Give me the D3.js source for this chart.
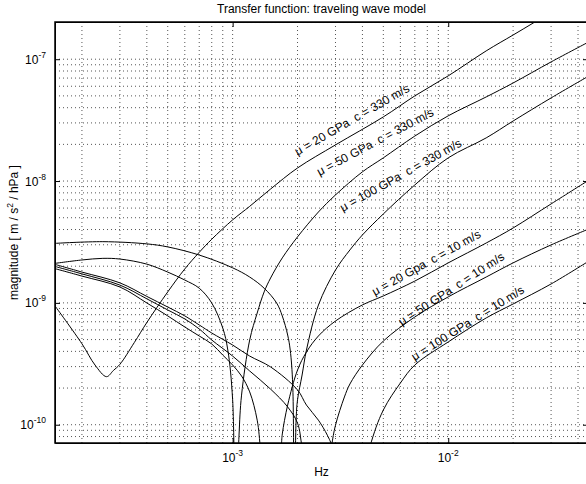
<!DOCTYPE html>
<html>
<head>
<meta charset="utf-8">
<script src="https://cdnjs.cloudflare.com/ajax/libs/d3/7.8.5/d3.min.js"></script>
<style>
  body { margin: 0; background: #fff; }
  svg { display: block; font-family: "Liberation Sans", Arial, Helvetica, sans-serif; }
</style>
</head>
<body>
<div id="chart"></div>
<script>
// Transfer function magnitude, traveling wave model (log-log)
// Each curve: [frequency Hz, magnitude m/s^2/hPa].

const mu20c330 = [
  [1.5e-4, 9.44e-10], [2.0e-4, 4.62e-10], [2.3e-4, 3.09e-10], [2.6e-4, 2.48e-10],
  [2.8e-4, 2.79e-10], [3.0e-4, 3.13e-10], [3.5e-4, 4.73e-10], [4.0e-4, 6.9e-10],
  [5.0e-4, 1.23e-9], [6.0e-4, 1.90e-9], [7.0e-4, 2.6e-9], [8.0e-4, 3.33e-9],
  [1.0e-3, 4.8e-9], [1.2e-3, 6.2e-9], [1.5e-3, 8.6e-9], [2.0e-3, 1.28e-8],
  [3.0e-3, 1.98e-8], [5.0e-3, 3.36e-8], [7.0e-3, 5.0e-8], [1.0e-2, 7.3e-8],
  [1.5e-2, 1.17e-7], [2.0e-2, 1.58e-7], [2.5e-2, 2.0e-7], [3.0e-2, 2.44e-7]
];

const mu50c330 = [
  [1.5e-4, 2.11e-9], [2.0e-4, 2.25e-9], [2.5e-4, 2.32e-9], [3.0e-4, 2.29e-9],
  [4.0e-4, 2.08e-9], [5.0e-4, 1.79e-9], [6.0e-4, 1.54e-9], [7.0e-4, 1.32e-9],
  [8.0e-4, 9.98e-10], [9.0e-4, 6.22e-10], [9.5e-4, 4.1e-10], [1.0e-3, 1.6e-10],
  [1.03e-3, 1e-11], [1.07e-3, 8e-11], [1.1e-3, 1.75e-10], [1.2e-3, 4.96e-10],
  [1.3e-3, 8.26e-10], [1.4e-3, 1.23e-9], [1.5e-3, 1.6e-9], [1.7e-3, 2.34e-9],
  [2.0e-3, 3.48e-9], [2.5e-3, 5.57e-9], [3.0e-3, 7.69e-9], [4.0e-3, 1.19e-8],
  [5.0e-3, 1.55e-8], [7.0e-3, 2.34e-8], [1.0e-2, 3.43e-8], [1.5e-2, 4.9e-8],
  [2.0e-2, 6.38e-8], [3.0e-2, 9.5e-8], [4.5e-2, 1.39e-7]
];

const mu100c330 = [
  [1.5e-4, 3.08e-9], [2.5e-4, 3.18e-9], [4.0e-4, 3.05e-9], [5.0e-4, 2.88e-9],
  [7.0e-4, 2.47e-9], [1.0e-3, 1.94e-9], [1.2e-3, 1.63e-9], [1.4e-3, 1.32e-9],
  [1.6e-3, 9.98e-10], [1.7e-3, 7.8e-10], [1.8e-3, 5.45e-10], [1.85e-3, 4.1e-10],
  [1.9e-3, 2.12e-10], [1.93e-3, 1e-11], [1.97e-3, 1.09e-10], [2.0e-3, 1.6e-10],
  [2.1e-3, 2.56e-10], [2.2e-3, 4.1e-10], [2.5e-3, 9.6e-10], [3.0e-3, 1.86e-9],
  [3.5e-3, 2.72e-9], [4.0e-3, 3.61e-9], [5.0e-3, 5.37e-9], [7.0e-3, 9.29e-9],
  [1.0e-2, 1.55e-8], [1.5e-2, 2.26e-8], [2.0e-2, 3.11e-8], [3.0e-2, 4.81e-8],
  [4.5e-2, 7.3e-8]
];

const mu20c10 = [
  [1.5e-4, 1.91e-9], [2.0e-4, 1.66e-9], [3.0e-4, 1.35e-9], [4.0e-4, 9.98e-10],
  [5.0e-4, 7.82e-10], [6.0e-4, 6.34e-10], [7.0e-4, 5.35e-10], [8.0e-4, 4.6e-10],
  [9.0e-4, 3.73e-10], [1.0e-3, 3.09e-10], [1.1e-3, 2.51e-10], [1.2e-3, 1.86e-10],
  [1.3e-3, 1.09e-10], [1.35e-3, 6e-11], [1.5e-3, 1e-11], [1.68e-3, 6.5e-11],
  [1.7e-3, 8.4e-11], [1.8e-3, 1.45e-10], [2.0e-3, 2.81e-10], [2.2e-3, 3.95e-10],
  [2.5e-3, 5.35e-10], [3.0e-3, 7.1e-10], [4.0e-3, 9.62e-10], [5.0e-3, 1.14e-9],
  [7.0e-3, 1.51e-9], [1.0e-2, 2.13e-9], [1.5e-2, 3.1e-9], [2.0e-2, 4.12e-9],
  [3.0e-2, 6.49e-9], [4.5e-2, 1.02e-8]
];

const mu50c10 = [
  [1.5e-4, 1.99e-9], [2.0e-4, 1.73e-9], [3.0e-4, 1.4e-9], [4.0e-4, 1.08e-9],
  [5.0e-4, 8.75e-10], [6.0e-4, 7.38e-10], [7.0e-4, 6.11e-10], [8.0e-4, 4.96e-10],
  [1.0e-3, 3.66e-10], [1.2e-3, 2.76e-10], [1.5e-3, 1.96e-10], [1.8e-3, 1.4e-10],
  [2.0e-3, 1.03e-10], [2.1e-3, 6.5e-11], [2.5e-3, 1e-11], [2.87e-3, 6.5e-11],
  [3.0e-3, 9.9e-11], [3.3e-3, 1.69e-10], [3.5e-3, 2.16e-10], [4.0e-3, 3.09e-10],
  [5.0e-3, 4.86e-10], [7.0e-3, 7.66e-10], [1.0e-2, 1.12e-9], [1.5e-2, 1.63e-9],
  [2.0e-2, 2.13e-9], [3.0e-2, 2.99e-9], [4.5e-2, 4.05e-9]
];

const mu100c10 = [
  [1.5e-4, 2.07e-9], [2.0e-4, 1.79e-9], [3.0e-4, 1.46e-9], [4.0e-4, 1.13e-9],
  [5.0e-4, 9.25e-10], [6.0e-4, 7.82e-10], [7.0e-4, 6.59e-10], [8.0e-4, 5.66e-10],
  [1.0e-3, 4.51e-10], [1.2e-3, 3.66e-10], [1.5e-3, 2.98e-10], [2.0e-3, 1.93e-10],
  [2.2e-3, 1.45e-10], [2.5e-3, 1.09e-10], [2.75e-3, 8.2e-11], [2.9e-3, 6.5e-11],
  [3.4e-3, 1e-11], [4.32e-3, 6.5e-11], [5.0e-3, 1.32e-10], [6.0e-3, 2.2e-10],
  [7.0e-3, 3.09e-10], [1.0e-2, 4.78e-10], [1.5e-2, 7.52e-10], [2.0e-2, 9.8e-10],
  [3.0e-2, 1.43e-9], [4.5e-2, 2.21e-9]
];

const curves = [mu20c330, mu50c330, mu100c330, mu20c10, mu50c10, mu100c10];

// curve labels: text, anchor frequency, anchor magnitude, angle (deg)
const labelText = [
  "\u03bc = 20 GPa  c = 330 m/s",
  "\u03bc = 50 GPa  c = 330 m/s",
  "\u03bc = 100 GPa  c = 330 m/s",
  "\u03bc = 20 Gpa  c = 10 m/s",
  "\u03bc = 50 GPa  c = 10 m/s",
  "\u03bc = 100 GPa  c = 10 m/s"
];
const labelFreq = [2.0e-3, 2.53e-3, 3.24e-3, 4.56e-3, 6.08e-3, 6.98e-3];
const labelMag = [1.61e-8, 1.10e-8, 5.57e-9, 1.14e-9, 6.46e-10, 3.33e-10];
const labelAngle = [30, 28, 29, 29, 33, 32];

const xDomain = [1.5e-4, 4.45e-2];
const yDomain = [7.08e-11, 2.02e-7];
const xMajor = [1e-3, 1e-2];
const xMinor = [2e-4, 3e-4, 4e-4, 5e-4, 6e-4, 7e-4, 8e-4, 9e-4,
                2e-3, 3e-3, 4e-3, 5e-3, 6e-3, 7e-3, 8e-3, 9e-3, 2e-2, 3e-2, 4e-2];
const yMajor = [1e-10, 1e-9, 1e-8, 1e-7];
const yMinor = [8e-11, 9e-11,
                2e-10, 3e-10, 4e-10, 5e-10, 6e-10, 7e-10, 8e-10, 9e-10,
                2e-9, 3e-9, 4e-9, 5e-9, 6e-9, 7e-9, 8e-9, 9e-9,
                2e-8, 3e-8, 4e-8, 5e-8, 6e-8, 7e-8, 8e-8, 9e-8, 2e-7];

const W = 586, H = 484;
const L = 55, R = 588, T = 22, B = 443;

const svg = d3.select('#chart').append('svg')
    .attr('width', W).attr('height', H)
    .style('background', '#fff');

const x = d3.scaleLog().domain(xDomain).range([L, R]);
const y = d3.scaleLog().domain(yDomain).range([B, T]);

svg.append('clipPath').attr('id', 'plot-clip')
  .append('rect').attr('x', L).attr('y', T).attr('width', R - L).attr('height', B - T);

// Grid (dotted, like matlab)
const grid = svg.append('g');
grid.selectAll('line.vx').data(xMajor.concat(xMinor)).enter().append('line')
    .attr('x1', d => x(d)).attr('x2', d => x(d))
    .attr('y1', T).attr('y2', B)
    .attr('stroke', '#555').attr('stroke-width', 1).attr('stroke-dasharray', '1,3');
grid.selectAll('line.hy').data(yMajor.concat(yMinor)).enter().append('line')
    .attr('x1', L).attr('x2', R)
    .attr('y1', d => y(d)).attr('y2', d => y(d))
    .attr('stroke', '#555').attr('stroke-width', 1).attr('stroke-dasharray', '1,3');

// Curves
const line = d3.line()
    .x(d => x(d[0])).y(d => y(d[1]))
    .curve(d3.curveCatmullRom.alpha(0.5));

svg.append('g').attr('clip-path', 'url(#plot-clip)')
  .selectAll('path').data(curves).enter().append('path')
    .attr('d', line)
    .attr('fill', 'none').attr('stroke', '#000').attr('stroke-width', 1);

// Axes: ticks point inward on all four sides
function ticks(axisFn, scale, vals, size) {
  return axisFn(scale).tickValues(vals).tickSize(-size).tickSizeOuter(0).tickFormat('');
}
const axB = svg.append('g').attr('transform', `translate(0,${B})`);
axB.call(ticks(d3.axisBottom, x, xMinor, 3));
axB.call(ticks(d3.axisBottom, x, xMajor, 5));
const axT = svg.append('g').attr('transform', `translate(0,${T})`);
axT.call(ticks(d3.axisTop, x, xMinor, 3));
axT.call(ticks(d3.axisTop, x, xMajor, 5));
const axL = svg.append('g').attr('transform', `translate(${L},0)`);
axL.call(ticks(d3.axisLeft, y, yMinor, 3));
axL.call(ticks(d3.axisLeft, y, yMajor, 5));
const axR = svg.append('g').attr('transform', `translate(${R},0)`);
axR.call(ticks(d3.axisRight, y, yMinor, 3));
axR.call(ticks(d3.axisRight, y, yMajor, 5));
svg.selectAll('.domain').attr('stroke', '#000');
svg.selectAll('.tick line').attr('stroke', '#000');

svg.append('rect').attr('x', L).attr('y', T).attr('width', R - L).attr('height', B - T)
    .attr('fill', 'none').attr('stroke', '#000').attr('stroke-width', 1.5);

// Tick labels with superscript exponents
function expLabel(sel, v) {
  const e = Math.round(Math.log10(v));
  sel.append('tspan').text('10');
  sel.append('tspan').attr('dy', -6).attr('font-size', 8.5).text('-' + Math.abs(e));
}
svg.selectAll('text.xl').data(xMajor).enter().append('text')
    .attr('x', d => x(d)).attr('y', B + 19)
    .attr('text-anchor', 'middle').attr('font-size', 12).attr('fill', '#000')
    .each(function (d) { expLabel(d3.select(this), d); });
svg.selectAll('text.yl').data(yMajor).enter().append('text')
    .attr('x', L - 9).attr('y', d => y(d) + 4.5)
    .attr('text-anchor', 'end').attr('font-size', 12).attr('fill', '#000')
    .each(function (d) { expLabel(d3.select(this), d); });

// Titles
svg.append('text').attr('x', (L + R) / 2).attr('y', 13)
    .attr('text-anchor', 'middle').attr('font-size', 12).text('Transfer function: traveling wave model');
svg.append('text').attr('x', (L + R) / 2).attr('y', 476)
    .attr('text-anchor', 'middle').attr('font-size', 12).text('Hz');
const yl = svg.append('text')
    .attr('transform', `translate(18,${(T + B) / 2}) rotate(-90)`)
    .attr('text-anchor', 'middle').attr('font-size', 12);
yl.append('tspan').text('magnitude [ m / s');
yl.append('tspan').attr('dy', -5).attr('font-size', 8.5).text('2');
yl.append('tspan').attr('dy', 5).text(' / hPa ]');

// Curve labels
svg.selectAll('text.cl').data(labelText).enter().append('text')
    .attr('transform', (d, i) => `translate(${x(labelFreq[i])},${y(labelMag[i])}) rotate(${-labelAngle[i]})`)
    .attr('font-size', 12).attr('fill', '#000')
    .style('white-space', 'pre')
    .text(d => d);
</script>
</body>
</html>
